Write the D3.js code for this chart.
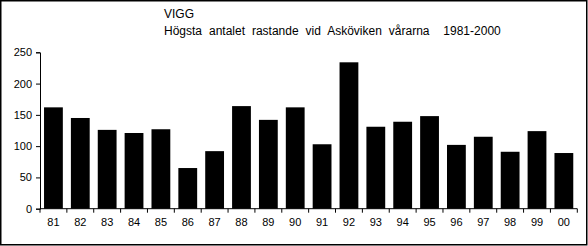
<!DOCTYPE html>
<html>
<head>
<meta charset="utf-8">
<script src="https://cdn.jsdelivr.net/npm/d3@7"></script>
<style>
body { margin: 0; background: #fff; }
text { font-family: Arial, "Liberation Sans", sans-serif; fill: #000; }
</style>
</head>
<body>
<div id="chart"></div>
<script>
// Data
var years = ['81', '82', '83', '84', '85', '86', '87', '88', '89', '90',
    '91', '92', '93', '94', '95', '96', '97', '98', '99', '00'];
var counts = [162, 145, 126, 121, 127, 65, 92, 164, 142, 162,
    103, 234, 131, 139, 148, 102, 115, 91, 124, 89];
var yTicks = [0, 50, 100, 150, 200, 250];
var titleLines = ['VIGG', 'Högsta antalet rastande vid Asköviken vårarna  1981-2000'];

var w = 588, h = 246;
var plotLeft = 40, plotRight = 577.3, plotTop = 52.3, plotBottom = 208.7;

var svg = d3.select('#chart').append('svg')
    .attr('width', w)
    .attr('height', h)
;

// Frame
svg.append('rect')
    .attr('x', 0.75)
    .attr('y', 0.75)
    .attr('width', w - 2)
    .attr('height', h - 2)
    .attr('fill', 'none')
    .attr('stroke', '#000')
    .attr('stroke-width', 1.5)
;

// Title
svg.selectAll('text.title')
    .data(titleLines)
    .enter()
    .append('text')
    .attr('class', 'title')
    .attr('x', 164)
    .attr('y', function (d, i) { return 18 + i * 17; })
    .attr('font-size', '12px')
    .style('white-space', 'pre')
    .style('word-spacing', '3.6px')
    .text(function (d) { return d; })
;

// Scales
var x = d3.scaleBand()
    .domain(years)
    .range([plotLeft, plotRight])
    .paddingInner(0.3)
    .paddingOuter(0.15)
;
var y = d3.scaleLinear()
    .domain([0, 250])
    .range([plotBottom, plotTop])
;

// Bars
svg.selectAll('rect.bar')
    .data(counts)
    .enter()
    .append('rect')
    .attr('class', 'bar')
    .attr('x', function (d, i) { return x(years[i]); })
    .attr('y', function (d) { return y(d); })
    .attr('width', x.bandwidth())
    .attr('height', function (d) { return plotBottom - y(d); })
    .attr('fill', '#000')
;

// Y axis
var yAxis = svg.append('g')
    .attr('transform', 'translate(' + plotLeft + ',0)')
    .call(d3.axisLeft(y).tickValues(yTicks).tickSize(4).tickPadding(4))
;
yAxis.select('.domain').attr('stroke', '#000');
yAxis.selectAll('text').attr('font-size', '11px').attr('font-family', 'Arial, "Liberation Sans", sans-serif');

// X axis, ticks between categories
var xAxis = svg.append('g')
    .attr('transform', 'translate(0,' + plotBottom + ')')
;
xAxis.append('line')
    .attr('x1', plotLeft)
    .attr('x2', plotRight)
    .attr('stroke', '#000')
;
var step = x.step();
xAxis.selectAll('line.tick')
    .data(d3.range(years.length + 1))
    .enter()
    .append('line')
    .attr('class', 'tick')
    .attr('x1', function (d) { return plotLeft + d * step; })
    .attr('x2', function (d) { return plotLeft + d * step; })
    .attr('y1', 0)
    .attr('y2', 4)
    .attr('stroke', '#000')
;
xAxis.selectAll('text')
    .data(years)
    .enter()
    .append('text')
    .attr('x', function (d) { return x(d) + x.bandwidth() / 2; })
    .attr('y', 17)
    .attr('text-anchor', 'middle')
    .attr('font-size', '11px')
    .text(function (d) { return d; })
;
</script>
</body>
</html>
